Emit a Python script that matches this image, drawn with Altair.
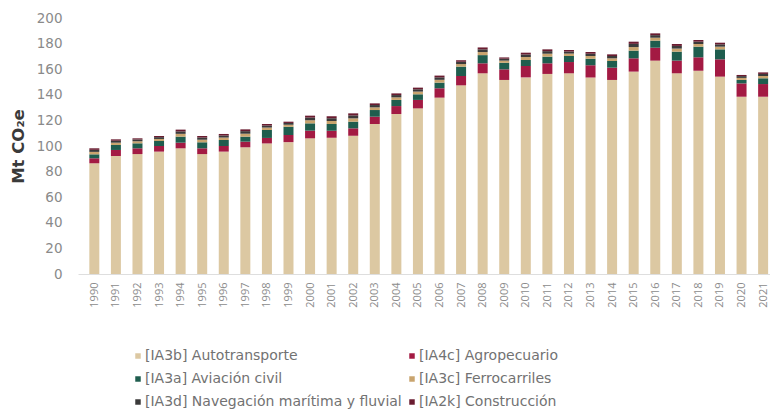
import altair as alt
import pandas as pd

years = list(range(1990, 2022))
categories = [
    "[IA3b] Autotransporte",
    "[IA4c] Agropecuario",
    "[IA3a] Aviación civil",
    "[IA3c] Ferrocarriles",
    "[IA3d] Navegación marítima y fluvial",
    "[IA2k] Construcción",
]
colors = ["#dcc8a2", "#a31a43", "#1f5d4e", "#c9a46e", "#3b3a3a", "#6a1c30"]
# legend is filled column by column: first column, then second
legend_order = [0, 2, 4, 1, 3, 5]

autotransporte = [86.5, 92.2, 93.7, 95.6, 98.2, 93.7, 95.6, 99.0, 102.0, 103.0,
                  106.0, 106.5, 108.0, 117.2, 125.0, 129.4, 137.8, 147.4, 156.8, 151.6,
                  153.6, 156.3, 156.8, 153.6, 151.6, 158.1, 166.7, 156.8, 158.8, 154.2,
                  138.5, 138.5]
agropecuario = [3.9, 4.7, 4.5, 4.4, 4.4, 4.5, 4.4, 4.4, 4.3, 5.6,
                6.0, 5.5, 5.8, 5.7, 6.2, 6.6, 7.3, 7.3, 7.8, 8.3,
                8.9, 8.3, 8.8, 9.4, 9.6, 10.4, 10.1, 9.9, 10.5, 13.5,
                10.4, 9.9]
aviacion = [3.1, 3.9, 3.9, 3.9, 4.7, 4.7, 4.7, 3.9, 6.2, 6.4,
            5.7, 5.2, 5.2, 5.2, 4.8, 4.4, 4.4, 7.3, 6.4, 5.1,
            4.7, 5.2, 4.7, 5.2, 5.2, 6.0, 5.5, 7.0, 8.3, 7.8,
            2.7, 4.5]
ferrocarriles = [1.9, 1.8, 1.6, 1.6, 2.2, 2.0, 1.9, 2.3, 1.9, 1.6,
                 2.4, 2.4, 2.6, 2.1, 2.0, 2.1, 2.2, 2.0, 2.4, 1.7,
                 2.3, 2.3, 1.9, 2.1, 2.1, 2.8, 2.3, 2.4, 2.1, 2.1,
                 1.6, 1.8]
navegacion = [1.6, 1.5, 1.4, 1.4, 1.9, 1.7, 1.6, 2.0, 1.6, 1.4,
              2.1, 2.1, 2.3, 1.8, 1.8, 1.8, 1.9, 1.8, 2.1, 1.5,
              2.0, 2.0, 1.6, 1.8, 1.8, 2.5, 2.0, 2.1, 1.8, 1.8,
              1.4, 1.6]
construccion = [1.2, 1.1, 0.9, 0.9, 1.4, 1.2, 1.2, 1.4, 1.2, 1.0,
                1.5, 1.5, 1.6, 1.3, 1.3, 1.3, 1.4, 1.2, 1.5, 1.0,
                1.4, 1.4, 1.2, 1.3, 1.3, 1.7, 1.4, 1.5, 1.3, 1.3,
                0.9, 1.2]

series = [autotransporte, agropecuario, aviacion, ferrocarriles, navegacion, construccion]
rows = []
for idx, (cat, vals) in enumerate(zip(categories, series)):
    for y, v in zip(years, vals):
        rows.append({"year": y, "categoria": cat, "valor": v, "orden": idx})
df = pd.DataFrame(rows)

legend_domain = [categories[i] for i in legend_order]
legend_range = [colors[i] for i in legend_order]

font = "DejaVu Sans"

chart = alt.Chart(df).mark_bar(size=10, clip=True).encode(
    x=alt.X(
        "year:Q",
        scale=alt.Scale(domain=[1989.475, 2021.087], nice=False, zero=False),
        axis=alt.Axis(
            title=None,
            values=years,
            format="d",
            labelAngle=-90,
            labelFlush=False,
            labelOverlap=False,
            labelFont="Liberation Sans Narrow, Open Sans",
            labelFontSize=11,
            labelColor="#8c8c8c",
            labelPadding=8,
            ticks=False,
            tickSize=0,
            grid=False,
            domainColor="#dedede",
            domainWidth=1,
        ),
    ),
    y=alt.Y(
        "valor:Q",
        stack="zero",
        scale=alt.Scale(domain=[0, 200], nice=False),
        axis=alt.Axis(
            title="Mt CO₂e",
            values=list(range(0, 201, 20)),
            labelFont=font,
            labelFontSize=13.5,
            labelColor="#8a8a8a",
            labelPadding=16,
            ticks=False,
            tickSize=0,
            grid=False,
            domain=False,
            titleFont=font,
            titleFontSize=16.5,
            titleFontWeight="bold",
            titleColor="#3a3a3a",
            titleAngle=-90,
            titleX=-60,
            titleY=128,
            titleAlign="center",
            titleBaseline="middle",
        ),
    ),
    color=alt.Color(
        "categoria:N",
        scale=alt.Scale(domain=legend_domain, range=legend_range),
        legend=alt.Legend(
            title=None,
            orient="none",
            legendX=53,
            legendY=331,
            columns=2,
            symbolType="square",
            symbolSize=30,
            symbolStrokeWidth=0,
            labelFont=font,
            labelFontSize=14,
            labelColor="#727272",
            labelOffset=0,
            rowPadding=9,
            columnPadding=3,
            labelLimit=400,
        ),
    ),
    order=alt.Order("orden:Q", sort="ascending"),
).properties(
    width=692,
    height=256,
    padding={"left": 70, "top": 10, "right": 0, "bottom": 135},
    autosize=alt.AutoSizeParams(type="none"),
).configure_view(stroke=None)

chart.save("out.html", embed_options={"renderer": "svg", "actions": False})
